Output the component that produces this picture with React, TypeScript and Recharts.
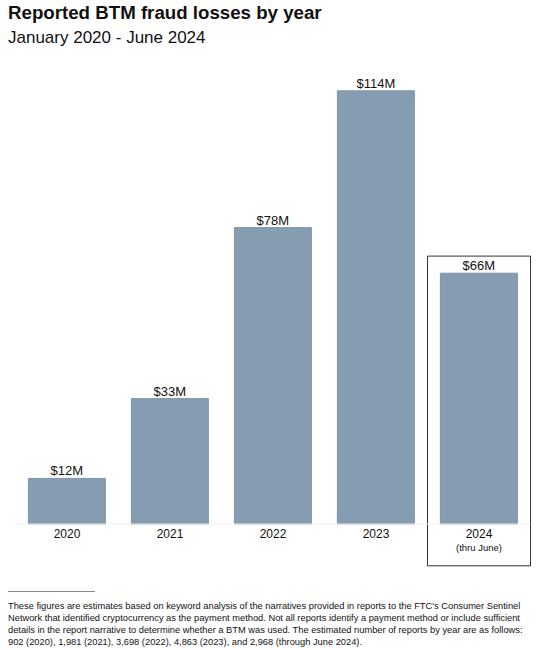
import React from "react";
import { BarChart, Bar, XAxis, YAxis, LabelList, ReferenceArea } from "recharts";

const years = ["2020", "2021", "2022", "2023", "2024"];
const lossesM = [12, 33, 78, 114, 66];
const tickNotes = ["", "", "", "", "(thru June)"];
const title = "Reported BTM fraud losses by year";
const subtitle = "January 2020 - June 2024";
const footnoteLines = [
  "These figures are estimates based on keyword analysis of the narratives provided in reports to the FTC's Consumer Sentinel",
  "Network that identified cryptocurrency as the payment method. Not all reports identify a payment method or include sufficient",
  "details in the report narrative to determine whether a BTM was used. The estimated number of reports by year are as follows:",
  "902 (2020), 1,981 (2021), 3,698 (2022), 4,863 (2023), and 2,968 (through June 2024).",
];

const data = years.map((y, i) => ({ year: y, value: lossesM[i], note: tickNotes[i] }));

const FONT = '"Liberation Sans", Arial, Helvetica, sans-serif';

const YearTick = (props: any) => {
  const { x, y, payload, index } = props;
  const note = tickNotes[index] ?? "";
  return (
    <g>
      <text x={x} y={y} dy={6} textAnchor="middle" fontSize={12} fill="#111" fontFamily={FONT}>
        {payload.value}
      </text>
      {note ? (
        <text x={x} y={y} dy={19} textAnchor="middle" fontSize={9.5} fill="#111" fontFamily={FONT}>
          {note}
        </text>
      ) : null}
    </g>
  );
};

export default function App() {
  return (
    <div
      style={{
        position: "absolute",
        left: 0,
        top: 0,
        width: 537,
        height: 650,
        background: "#fff",
        fontFamily: FONT,
        overflow: "hidden",
      }}
    >
      <div style={{ position: "absolute", left: 0, top: 0 }}>
        <BarChart
          width={537}
          height={650}
          data={data}
          margin={{ top: 68, right: 6.5, bottom: 96, left: 15.5 }}
          barCategoryGap="12.5%"
        >
          <XAxis
            dataKey="year"
            axisLine={{ stroke: "#f0f0f0" }}
            tickLine={false}
            tick={<YearTick />}
            interval={0}
            height={30}
          />
          <YAxis hide domain={[0, 120]} />
          <ReferenceArea
            x1="2024"
            x2="2024"
            y1={-11}
            y2={70.5}
            fill="none"
            fillOpacity={0}
            stroke="#333"
            strokeWidth={1}
            ifOverflow="visible"
          />
          <Bar dataKey="value" fill="#869db1" stroke="#7f95aa" strokeWidth={1} isAnimationActive={false}>
            <LabelList
              dataKey="value"
              position="top"
              offset={3}
              formatter={(v: any) => `$${v}M`}
              style={{ fontSize: 13, fill: "#111", fontFamily: FONT }}
            />
          </Bar>
        </BarChart>
      </div>
      <div
        style={{
          position: "absolute",
          left: 8,
          top: 2,
          fontSize: 18.7,
          fontWeight: "bold",
          color: "#111",
          lineHeight: "22px",
          whiteSpace: "nowrap",
        }}
      >
        {title}
      </div>
      <div
        style={{
          position: "absolute",
          left: 8,
          top: 28,
          fontSize: 17,
          color: "#111",
          lineHeight: "20px",
          whiteSpace: "nowrap",
        }}
      >
        {subtitle}
      </div>
      <div
        style={{
          position: "absolute",
          left: 8,
          top: 591,
          width: 87,
          height: 0,
          borderTop: "1px solid #888",
        }}
      />
      <div
        style={{
          position: "absolute",
          left: 8,
          top: 600,
          fontSize: 9.3,
          lineHeight: "12px",
          color: "#111",
          whiteSpace: "nowrap",
        }}
      >
        {footnoteLines.map((l, i) => (
          <div key={i}>{l}</div>
        ))}
      </div>
    </div>
  );
}
